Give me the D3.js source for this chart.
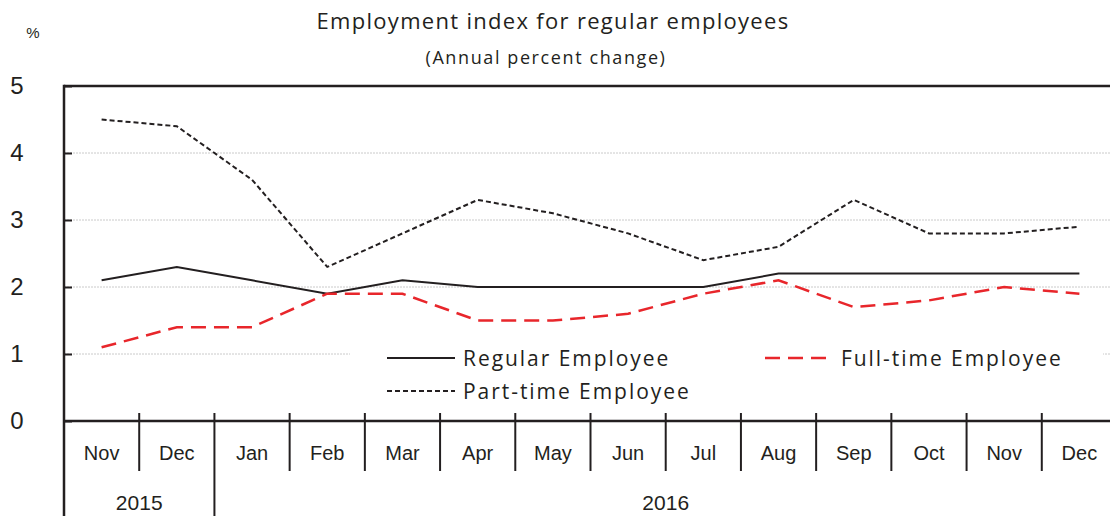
<!DOCTYPE html>
<html><head><meta charset="utf-8">
<script src="https://cdn.jsdelivr.net/npm/d3@7"></script>
<style>body{margin:0;background:#fff}svg{display:block}</style>
</head><body>
<svg id="c" width="1110" height="516"></svg>
<script>
const months = ["Nov","Dec","Jan","Feb","Mar","Apr","May","Jun","Jul","Aug","Sep","Oct","Nov","Dec"];
const years = [{label:"2015", from:0, to:2},{label:"2016", from:2, to:14}];
const regular = [2.1,2.3,2.1,1.9,2.1,2.0,2.0,2.0,2.0,2.2,2.2,2.2,2.2,2.2];
const fulltime = [1.1,1.4,1.4,1.9,1.9,1.5,1.5,1.6,1.9,2.1,1.7,1.8,2.0,1.9];
const parttime = [4.5,4.4,3.6,2.3,2.8,3.3,3.1,2.8,2.4,2.6,3.3,2.8,2.8,2.9];
const yTicks = [0,1,2,3,4,5];

const svg = d3.select("#c");
const L = 64, R = 1117, T = 86, B = 421;
const x = d3.scaleBand().domain(d3.range(months.length)).range([L, R]).paddingInner(0).paddingOuter(0);
const y = d3.scaleLinear().domain([0,5]).range([B, T]);
const cx = i => x(i) + x.bandwidth()/2;
const ink = "#231f20";
const font = "'Liberation Sans', Arial, sans-serif";
const tfont = "'Open Sans', 'Noto Sans', sans-serif";

// gridlines
svg.append("g").selectAll("line").data([1,2,3,4]).join("line")
  .attr("x1", L).attr("x2", 1110).attr("y1", d=>y(d)).attr("y2", d=>y(d))
  .attr("stroke", "#bdbdbd").attr("stroke-width", 0.8).attr("stroke-dasharray", "2,1");

// top border
svg.append("line").attr("x1", L).attr("x2", 1110).attr("y1", T).attr("y2", T)
  .attr("stroke", ink).attr("stroke-width", 2.5);

// lines
const line = d3.line().x((d,i)=>cx(i)).y(d=>y(d));
svg.append("path").datum(parttime).attr("d", line).attr("fill","none")
  .attr("stroke", ink).attr("stroke-width", 2).attr("stroke-dasharray","5,3");
svg.append("path").datum(regular).attr("d", line).attr("fill","none")
  .attr("stroke", ink).attr("stroke-width", 2);
svg.append("path").datum(fulltime).attr("d", line).attr("fill","none")
  .attr("stroke", "#e8262b").attr("stroke-width", 2.5).attr("stroke-dasharray","15,8");

// legend background
svg.append("rect").attr("x", 350).attr("y", 340).attr("width", 753).attr("height", 66).attr("fill", "#fff");
const leg = [
  {label:"Regular Employee", x:387, y:358, stroke:ink, dash:null, w:2},
  {label:"Full-time Employee", x:765, y:358, stroke:"#e8262b", dash:"15,8", w:2.5},
  {label:"Part-time Employee", x:387, y:391, stroke:ink, dash:"5,3", w:2}
];
const lg = svg.append("g").selectAll("g").data(leg).join("g");
lg.append("line").attr("x1", d=>d.x).attr("x2", d=>d.x+68).attr("y1", d=>d.y).attr("y2", d=>d.y)
  .attr("stroke", d=>d.stroke).attr("stroke-width", d=>d.w).attr("stroke-dasharray", d=>d.dash);
lg.append("text").attr("x", d=>d.x+76).attr("y", d=>d.y+8).text(d=>d.label)
  .attr("font-family", tfont).attr("font-size", 21).attr("letter-spacing", 1.95).attr("fill", ink);

// y axis
const yAxis = svg.append("g").attr("transform", `translate(${L},0)`)
  .call(d3.axisRight(y).tickValues(yTicks).tickSize(8).tickFormat(""));
yAxis.select(".domain").remove();
yAxis.selectAll(".tick line").attr("stroke", ink).attr("stroke-width", 2);
svg.append("line").attr("x1", L).attr("x2", L).attr("y1", T-1.25).attr("y2", 516)
  .attr("stroke", ink).attr("stroke-width", 2.5);
svg.append("g").selectAll("text").data(yTicks).join("text")
  .attr("x", 17).attr("y", d=>y(d)+8).text(d=>d)
  .attr("font-family", font).attr("font-size", 24).attr("fill", ink).attr("text-anchor","middle");
svg.append("text").attr("x", 33).attr("y", 38).text("%")
  .attr("font-family", font).attr("font-size", 15).attr("fill", ink).attr("text-anchor","middle");

// x axis
svg.append("line").attr("x1", L).attr("x2", 1110).attr("y1", B).attr("y2", B)
  .attr("stroke", ink).attr("stroke-width", 2.5);
const xAxis = svg.append("g").attr("transform", `translate(0,${B})`)
  .call(d3.axisBottom(x).tickFormat(i=>months[i]).tickSize(0));
xAxis.select(".domain").remove();
xAxis.selectAll(".tick text").attr("font-family", font).attr("font-size", 20).attr("fill", ink).attr("dy", 0).attr("y", 39);
svg.append("g").selectAll("line").data(d3.range(1, months.length)).join("line")
  .attr("x1", i=>x(i)).attr("x2", i=>x(i)).attr("y1", B-8).attr("y2", i=> years.some(yy=>yy.from===i) ? 516 : 471)
  .attr("stroke", ink).attr("stroke-width", 2);
svg.append("g").selectAll("text").data(years).join("text")
  .attr("x", d=>(x(d.from) + Math.min(x(d.to-1)+x.bandwidth(), 1117))/2).attr("y", 510)
  .text(d=>d.label).attr("font-family", font).attr("font-size", 21).attr("fill", ink).attr("text-anchor","middle");

// titles
svg.append("text").attr("x", 553).attr("y", 29).text("Employment index for regular employees")
  .attr("font-family", tfont).attr("font-size", 22).attr("letter-spacing", 1.3).attr("fill", ink).attr("text-anchor","middle");
svg.append("text").attr("x", 546).attr("y", 64).text("(Annual percent change)")
  .attr("font-family", tfont).attr("font-size", 18).attr("letter-spacing", 1.6).attr("fill", ink).attr("text-anchor","middle");
</script>
</body></html>
